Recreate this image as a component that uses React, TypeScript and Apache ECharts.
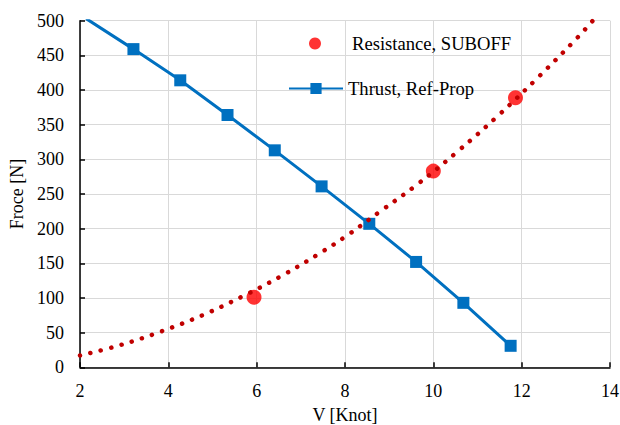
import React, { useEffect, useRef } from "react";
import * as echarts from "echarts";

const resistanceV = [5.94, 10.0, 11.86];
const resistanceF = [101, 283, 389];

const thrustV = [2.14, 3.21, 4.27, 5.34, 6.41, 7.47, 8.55, 9.61, 10.68, 11.75];
const thrustF = [503, 459, 414, 364, 313, 261, 207, 152, 93, 31];

// trend curve of the resistance
const trendV = [2.0, 2.91, 3.85, 4.77, 5.67, 6.54, 7.39, 8.02, 8.82, 9.62, 10.58, 11.5, 12.4, 13.27, 13.65];
const trendF = [17, 32, 52, 75, 102, 131, 163, 189, 226, 263, 313, 365, 420, 476, 503];

const xTicks = { min: 2, max: 14, interval: 2 };
const yTicks = { min: 0, max: 500, interval: 50 };

const FONT = "Liberation Serif";

export default function App() {
  const ref = useRef<HTMLDivElement>(null);
  useEffect(() => {
    if (!ref.current) return;
    const chart = echarts.init(ref.current, undefined, { renderer: "svg" });
    const pairs = (a: number[], b: number[]) => a.map((v, i) => [v, b[i]]);
    const thrustData = thrustV.map((v, i) =>
      thrustF[i] > yTicks.max ? { value: [v, thrustF[i]], symbolSize: 0 } : { value: [v, thrustF[i]] }
    );
    chart.setOption({
      animation: false,
      backgroundColor: "#ffffff",
      grid: { left: 80, right: 10, top: 20.7, bottom: 57.7, containLabel: false, outerBoundsMode: "none" },
      legend: [
        {
          data: ["Resistance, SUBOFF"],
          icon: "circle",
          left: 309, top: 34, padding: 0, itemWidth: 54, itemHeight: 12,
          textStyle: { fontFamily: FONT, fontSize: 18.6, color: "#000000", padding: [0, 0, 0, 5] },
        },
        {
          data: ["Thrust, Ref-Prop"],
          left: 288, top: 79, padding: 0, itemWidth: 54, itemHeight: 14,
          textStyle: { fontFamily: FONT, fontSize: 18.6, color: "#000000" },
        },
      ],
      xAxis: {
        type: "value", min: xTicks.min, max: xTicks.max, interval: xTicks.interval,
        name: "V [Knot]", nameLocation: "middle", nameGap: 39,
        nameTextStyle: { fontFamily: FONT, fontSize: 18, color: "#000000" },
        axisLine: { onZero: false, lineStyle: { color: "#000", width: 1.5 } },
        axisTick: { inside: true, length: 5, lineStyle: { color: "#000", width: 1.5 } },
        axisLabel: { show: true, fontFamily: FONT, fontSize: 18, color: "#000000", margin: 15 },
        splitLine: { show: true, lineStyle: { color: "#D9D9D9", width: 1 } },
      },
      yAxis: {
        type: "value", min: yTicks.min, max: yTicks.max, interval: yTicks.interval,
        name: "Froce [N]", nameLocation: "middle", nameGap: 51,
        nameTextStyle: { fontFamily: FONT, fontSize: 18, color: "#000000" },
        axisLine: { show: true, lineStyle: { color: "#000", width: 1.5 } },
        axisTick: { show: true, inside: true, length: 5, lineStyle: { color: "#000", width: 1.5 } },
        axisLabel: { show: true, fontFamily: FONT, fontSize: 18, color: "#000000", margin: 16 },
        splitLine: { show: true, lineStyle: { color: "#D9D9D9", width: 1 } },
      },
      series: [
        {
          name: "Resistance, SUBOFF", type: "scatter", data: pairs(resistanceV, resistanceF),
          symbol: "circle", symbolSize: 15, itemStyle: { color: "#FF0000" }, z: 2,
        },
        {
          name: "Thrust, Ref-Prop", type: "line", data: thrustData, symbol: "rect", symbolSize: 12,
          showAllSymbol: true, clip: true,
          lineStyle: { color: "#0070C0", width: 3 }, itemStyle: { color: "#0070C0" }, z: 3,
        },
        {
          name: "trend", type: "line", data: pairs(trendV, trendF), smooth: 0.4, symbol: "none", clip: true,
          lineStyle: { color: "#C00000", width: 4.5, type: [0.1, 10.6], cap: "round" }, z: 4, silent: true,
        },
      ],
    });
    return () => chart.dispose();
  }, []);
  return <div ref={ref} style={{ width: 620, height: 425, position: "absolute", left: 0, top: 0 }} />;
}
